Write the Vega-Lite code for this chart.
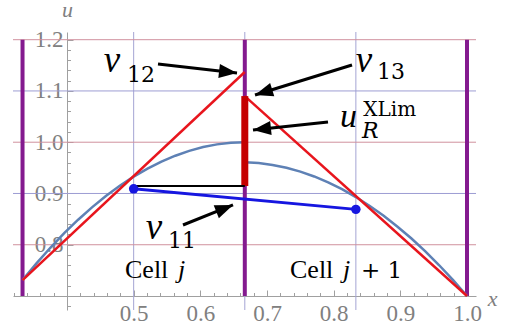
{
  "$schema": "https://vega.github.io/schema/vega-lite/v6.json",
  "width": 463,
  "height": 278,
  "autosize": {"type": "none"},
  "padding": {"left": 13, "top": 32, "right": 31, "bottom": 19},
  "background": "white",
  "config": {"view": {"stroke": null}},
  "datasets": {
    "vgrid": [
      {"x": 0.5, "y": 0.6727, "y2": 1.215},
      {"x": 0.6667, "y": 0.6727, "y2": 1.215},
      {"x": 0.8333, "y": 0.6727, "y2": 1.215}
    ],
    "hgridRed": [
      {"y": 0.8, "x": 0.319, "x2": 1.0135},
      {"y": 1.0, "x": 0.319, "x2": 1.0135},
      {"y": 1.2, "x": 0.319, "x2": 1.0135}
    ],
    "hgridBlue": [
      {"y": 0.9, "x": 0.319, "x2": 1.0135},
      {"y": 1.1, "x": 0.319, "x2": 1.0135}
    ],
    "cellEdges": [
      {"x": 0.3333, "y": 0.7, "y2": 1.2},
      {"x": 0.6667, "y": 0.7, "y2": 1.2},
      {"x": 1.0, "y": 0.7, "y2": 1.2}
    ],
    "exact": [
      {"piece": "L", "x": 0.3333, "y": 0.731},
      {"piece": "L", "x": 0.3542, "y": 0.7637},
      {"piece": "L", "x": 0.375, "y": 0.7941},
      {"piece": "L", "x": 0.3958, "y": 0.8225},
      {"piece": "L", "x": 0.4167, "y": 0.8488},
      {"piece": "L", "x": 0.4375, "y": 0.8729},
      {"piece": "L", "x": 0.4583, "y": 0.895},
      {"piece": "L", "x": 0.4792, "y": 0.9149},
      {"piece": "L", "x": 0.5, "y": 0.9328},
      {"piece": "L", "x": 0.5208, "y": 0.9485},
      {"piece": "L", "x": 0.5417, "y": 0.9622},
      {"piece": "L", "x": 0.5625, "y": 0.9737},
      {"piece": "L", "x": 0.5833, "y": 0.9832},
      {"piece": "L", "x": 0.6042, "y": 0.9905},
      {"piece": "L", "x": 0.625, "y": 0.9958},
      {"piece": "L", "x": 0.6458, "y": 0.9989},
      {"piece": "L", "x": 0.6667, "y": 1.0},
      {"piece": "R", "x": 0.6667, "y": 0.961},
      {"piece": "R", "x": 0.6875, "y": 0.9593},
      {"piece": "R", "x": 0.7083, "y": 0.9557},
      {"piece": "R", "x": 0.7292, "y": 0.9502},
      {"piece": "R", "x": 0.75, "y": 0.9426},
      {"piece": "R", "x": 0.7708, "y": 0.9332},
      {"piece": "R", "x": 0.7917, "y": 0.9217},
      {"piece": "R", "x": 0.8125, "y": 0.9083},
      {"piece": "R", "x": 0.8333, "y": 0.893},
      {"piece": "R", "x": 0.8542, "y": 0.8757},
      {"piece": "R", "x": 0.875, "y": 0.8565},
      {"piece": "R", "x": 0.8958, "y": 0.8352},
      {"piece": "R", "x": 0.9167, "y": 0.8121},
      {"piece": "R", "x": 0.9375, "y": 0.7871},
      {"piece": "R", "x": 0.9583, "y": 0.76},
      {"piece": "R", "x": 0.9792, "y": 0.731},
      {"piece": "R", "x": 1.0, "y": 0.7}
    ],
    "recon": [
      {"piece": "L", "x": 0.3333, "y": 0.731},
      {"piece": "L", "x": 0.6667, "y": 1.137},
      {"piece": "R", "x": 0.6667, "y": 1.09},
      {"piece": "R", "x": 1.0, "y": 0.7}
    ],
    "limitJump": [{"x": 0.6667, "y": 0.9146, "y2": 1.09}],
    "level": [{"x": 0.5, "x2": 0.6667, "y": 0.9146}],
    "means": [
      {"x": 0.5, "y": 0.909},
      {"x": 0.8333, "y": 0.869}
    ],
    "arrows": [
      {"arrow": "a12", "x": 0.5365, "y": 1.1527, "x2": 0.655, "y2": 1.1351},
      {"arrow": "a13", "x": 0.8275, "y": 1.1507, "x2": 0.682, "y2": 1.0922},
      {"arrow": "aur", "x": 0.7915, "y": 1.0395, "x2": 0.679, "y2": 1.0239},
      {"arrow": "a11", "x": 0.574, "y": 0.8385, "x2": 0.649, "y2": 0.8776}
    ],
    "symbols": [
      {"t": "v", "x": 0.455, "y": 1.137},
      {"t": "v", "x": 0.833, "y": 1.137},
      {"t": "v", "x": 0.518, "y": 0.8112}
    ],
    "symbolU": [{"t": "u", "x": 0.8095, "y": 1.0298}],
    "subscripts": [
      {"t": "12", "x": 0.49, "y": 1.1176},
      {"t": "13", "x": 0.865, "y": 1.1234},
      {"t": "11", "x": 0.5515, "y": 0.7937}
    ],
    "subR": [{"t": "R", "x": 0.8425, "y": 1.0083}],
    "supXLim": [{"t": "XLim", "x": 0.8445, "y": 1.0513}],
    "cellWord": [
      {"t": "Cell", "x": 0.487, "y": 0.7351},
      {"t": "Cell", "x": 0.7345, "y": 0.7351}
    ],
    "cellIndex": [
      {"t": "j", "x": 0.5665, "y": 0.7351},
      {"t": "j", "x": 0.814, "y": 0.7351}
    ],
    "plusOne": [{"t": "+ 1", "x": 0.841, "y": 0.7351}]
  },
  "encoding": {
    "x": {
      "field": "x",
      "type": "quantitative",
      "scale": {"domain": [0.319, 1.0135], "nice": false, "zero": false},
      "axis": {
        "title": "x",
        "titleAngle": 0,
        "titleX": 479,
        "titleY": 9,
        "titleAlign": "center",
        "titleBaseline": "alphabetic",
        "titleFont": "Liberation Serif",
        "titleFontStyle": "italic",
        "titleFontWeight": "normal",
        "titleFontSize": 22,
        "titleColor": "#808080",
        "offset": -14,
        "grid": false,
        "values": [0.32, 0.34, 0.36, 0.38, 0.4, 0.42, 0.44, 0.46, 0.48, 0.5, 0.52, 0.54, 0.56, 0.58, 0.6, 0.62, 0.64, 0.66, 0.68, 0.7, 0.72, 0.74, 0.76, 0.78, 0.8, 0.82, 0.84, 0.86, 0.88, 0.9, 0.92, 0.94, 0.96, 0.98, 1.0],
        "labelExpr": "(datum.value > 0.45 && abs(datum.value * 10 - round(datum.value * 10)) < 0.001) ? format(datum.value, '.1f') : ''",
        "domainColor": "#a0a0a0",
        "domainWidth": 1,
        "tickColor": "#a0a0a0",
        "tickWidth": 1,
        "tickSize": {"condition": {"test": "abs(datum.value * 10 - round(datum.value * 10)) < 0.001", "value": -6}, "value": -3.5},
        "labelFont": "Liberation Serif",
        "labelFontSize": 23,
        "labelColor": "#808080",
        "labelPadding": 12,
        "labelBaseline": "top",
        "labelFlush": false,
        "labelOverlap": false,
        "labelBound": false
      }
    },
    "y": {
      "field": "y",
      "type": "quantitative",
      "scale": {"domain": [0.6727, 1.215], "nice": false, "zero": false},
      "axis": {
        "title": "u",
        "titleAngle": 0,
        "titleX": 0,
        "titleY": -16,
        "titleAlign": "center",
        "titleBaseline": "alphabetic",
        "titleFont": "Liberation Serif",
        "titleFontStyle": "italic",
        "titleFontWeight": "normal",
        "titleFontSize": 22,
        "titleColor": "#808080",
        "offset": -54,
        "grid": false,
        "values": [0.68, 0.7, 0.72, 0.74, 0.76, 0.78, 0.8, 0.82, 0.84, 0.86, 0.88, 0.9, 0.92, 0.94, 0.96, 0.98, 1.0, 1.02, 1.04, 1.06, 1.08, 1.1, 1.12, 1.14, 1.16, 1.18, 1.2],
        "labelExpr": "(datum.value > 0.75 && abs(datum.value * 10 - round(datum.value * 10)) < 0.001) ? format(datum.value, '.1f') : ''",
        "domainColor": "#a0a0a0",
        "domainWidth": 1,
        "tickColor": "#a0a0a0",
        "tickWidth": 1,
        "tickSize": {"condition": {"test": "abs(datum.value * 10 - round(datum.value * 10)) < 0.001", "value": -6}, "value": -3.5},
        "labelFont": "Liberation Serif",
        "labelFontSize": 23,
        "labelColor": "#808080",
        "labelPadding": 10,
        "labelAlign": "right",
        "labelBaseline": "middle",
        "labelFlush": false,
        "labelOverlap": false,
        "labelBound": false
      }
    }
  },
  "layer": [
    {
      "data": {"name": "vgrid"},
      "mark": {"type": "rule", "color": "#a4a4d4", "strokeWidth": 1},
      "encoding": {"y2": {"field": "y2"}}
    },
    {
      "data": {"name": "hgridRed"},
      "mark": {"type": "rule", "color": "#d0919e", "strokeWidth": 1},
      "encoding": {"x2": {"field": "x2"}}
    },
    {
      "data": {"name": "hgridBlue"},
      "mark": {"type": "rule", "color": "#9d9dd3", "strokeWidth": 1},
      "encoding": {"x2": {"field": "x2"}}
    },
    {
      "data": {"name": "cellEdges"},
      "mark": {"type": "rule", "color": "#841a8f", "strokeWidth": 4},
      "encoding": {"y2": {"field": "y2"}}
    },
    {
      "data": {"name": "exact"},
      "mark": {"type": "line", "color": "#5e81b5", "strokeWidth": 2.5},
      "encoding": {"detail": {"field": "piece"}}
    },
    {
      "data": {"name": "recon"},
      "mark": {"type": "line", "color": "#e8151d", "strokeWidth": 2.5},
      "encoding": {"detail": {"field": "piece"}}
    },
    {
      "data": {"name": "limitJump"},
      "mark": {"type": "rule", "color": "#c50000", "strokeWidth": 7},
      "encoding": {"y2": {"field": "y2"}}
    },
    {
      "data": {"name": "level"},
      "mark": {"type": "rule", "color": "#000000", "strokeWidth": 2},
      "encoding": {"x2": {"field": "x2"}}
    },
    {
      "data": {"name": "means"},
      "mark": {"type": "line", "color": "#1616e0", "strokeWidth": 3}
    },
    {
      "data": {"name": "means"},
      "mark": {"type": "point", "shape": "circle", "filled": true, "opacity": 1, "color": "#1616e0", "size": 90}
    },
    {
      "data": {"name": "arrows"},
      "mark": {"type": "rule", "color": "#000000", "strokeWidth": 3},
      "encoding": {"x2": {"field": "x2"}, "y2": {"field": "y2"}}
    },
    {
      "data": {"name": "arrows"},
      "transform": [{"filter": "datum.arrow == 'a12'"}],
      "mark": {"type": "point", "shape": "M0,0L0.7,1.8L-0.7,1.8Z", "filled": true, "opacity": 1, "color": "#000000", "size": 400, "angle": 96.5},
      "encoding": {"x": {"field": "x2", "type": "quantitative"}, "y": {"field": "y2", "type": "quantitative"}}
    },
    {
      "data": {"name": "arrows"},
      "transform": [{"filter": "datum.arrow == 'a13'"}],
      "mark": {"type": "point", "shape": "M0,0L0.7,1.8L-0.7,1.8Z", "filled": true, "opacity": 1, "color": "#000000", "size": 400, "angle": 252.8},
      "encoding": {"x": {"field": "x2", "type": "quantitative"}, "y": {"field": "y2", "type": "quantitative"}}
    },
    {
      "data": {"name": "arrows"},
      "transform": [{"filter": "datum.arrow == 'aur'"}],
      "mark": {"type": "point", "shape": "M0,0L0.7,1.8L-0.7,1.8Z", "filled": true, "opacity": 1, "color": "#000000", "size": 400, "angle": 263.9},
      "encoding": {"x": {"field": "x2", "type": "quantitative"}, "y": {"field": "y2", "type": "quantitative"}}
    },
    {
      "data": {"name": "arrows"},
      "transform": [{"filter": "datum.arrow == 'a11'"}],
      "mark": {"type": "point", "shape": "M0,0L0.7,1.8L-0.7,1.8Z", "filled": true, "opacity": 1, "color": "#000000", "size": 400, "angle": 68.2},
      "encoding": {"x": {"field": "x2", "type": "quantitative"}, "y": {"field": "y2", "type": "quantitative"}}
    },
    {
      "data": {"name": "symbols"},
      "mark": {"type": "text", "align": "left", "baseline": "alphabetic", "font": "Liberation Serif", "fontStyle": "italic", "fontSize": 37, "color": "#000000"},
      "encoding": {"text": {"field": "t"}}
    },
    {
      "data": {"name": "symbolU"},
      "mark": {"type": "text", "align": "left", "baseline": "alphabetic", "font": "Liberation Serif", "fontStyle": "italic", "fontSize": 34, "color": "#000000"},
      "encoding": {"text": {"field": "t"}}
    },
    {
      "data": {"name": "subscripts"},
      "mark": {"type": "text", "align": "left", "baseline": "alphabetic", "font": "DejaVu Serif", "fontSize": 22, "color": "#000000"},
      "encoding": {"text": {"field": "t"}}
    },
    {
      "data": {"name": "subR"},
      "mark": {"type": "text", "align": "left", "baseline": "alphabetic", "font": "DejaVu Serif", "fontStyle": "italic", "fontSize": 22, "color": "#000000"},
      "encoding": {"text": {"field": "t"}}
    },
    {
      "data": {"name": "supXLim"},
      "mark": {"type": "text", "align": "left", "baseline": "alphabetic", "font": "DejaVu Serif", "fontSize": 20, "color": "#000000"},
      "encoding": {"text": {"field": "t"}}
    },
    {
      "data": {"name": "cellWord"},
      "mark": {"type": "text", "align": "left", "baseline": "alphabetic", "font": "Liberation Serif", "fontSize": 26, "color": "#000000"},
      "encoding": {"text": {"field": "t"}}
    },
    {
      "data": {"name": "cellIndex"},
      "mark": {"type": "text", "align": "left", "baseline": "alphabetic", "font": "Liberation Serif", "fontStyle": "italic", "fontSize": 26, "color": "#000000"},
      "encoding": {"text": {"field": "t"}}
    },
    {
      "data": {"name": "plusOne"},
      "mark": {"type": "text", "align": "left", "baseline": "alphabetic", "font": "DejaVu Serif", "fontSize": 23, "color": "#000000"},
      "encoding": {"text": {"field": "t"}}
    }
  ]
}
